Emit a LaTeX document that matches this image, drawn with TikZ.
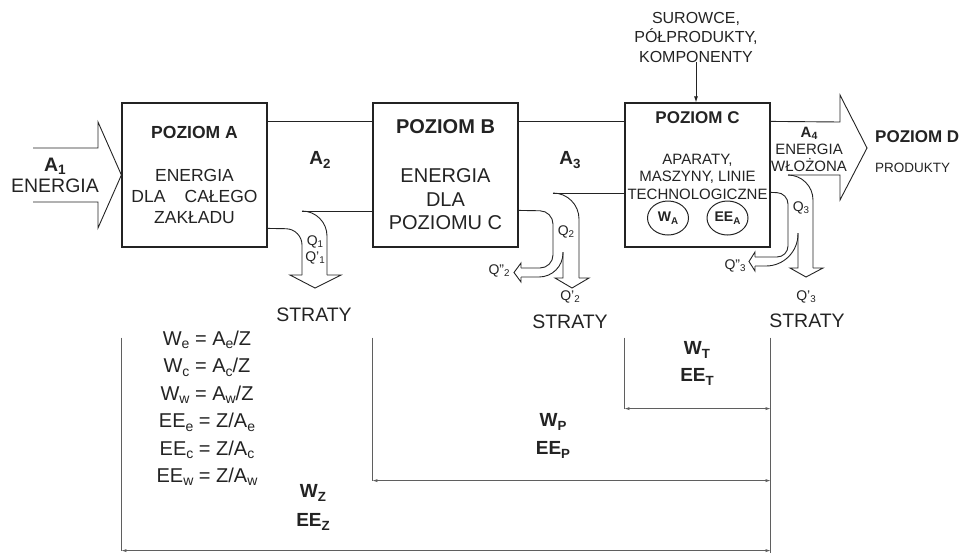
\documentclass[tikz,border=0pt]{standalone}
\usepackage{fontspec}
\setmainfont{Liberation Sans}
\usepackage{tikz}
\usetikzlibrary{positioning, arrows.meta, calc, shapes.geometric}
\definecolor{ink}{RGB}{35,35,35}
\definecolor{rule}{RGB}{95,95,95}
\newcommand{\lo}[1]{\raisebox{-0.17em}{\scalebox{0.7}{#1}}}

\begin{document}
\begin{tikzpicture}[
      x=1pt, y=-1pt,
      box/.style={
        draw=ink,
        line width=1.2pt,
        minimum width=145pt,
        minimum height=144pt,
        inner sep=0pt
      },
      flow/.style={
        draw=ink,
        line width=0.9pt
      },
      dimline/.style={
        draw=rule,
        line width=0.8pt
      },
      dimarrow/.style={
        draw=rule,
        line width=0.6pt,
        {Latex[length=5pt,width=3pt]}-{Latex[length=5pt,width=3pt]}
      },
      txt/.style n args={2}{text=ink, inner sep=0pt, align=center, font=\fontsize{#1}{#2}\selectfont},
      btxt/.style n args={2}{text=ink, inner sep=0pt, align=center, font=\fontsize{#1}{#2}\selectfont\bfseries},
      meter/.style={
        draw=ink,
        line width=1pt,
        ellipse,
        minimum width=41pt,
        minimum height=34pt,
        inner sep=0pt
      }
    ]

    \useasboundingbox (0,0) rectangle (964,552);

    \node[box] (poza) at (194.5,175) {};
    \node[box] (pozb) at (445.5,175) {};
    \node[box] (pozc) at (697.5,175) {};

    \node[btxt={17.5}{21}] (tyta) at (194.5,132) {POZIOM A};
    \node[txt={17.5}{21}] (opisa) at (194.5,196) {ENERGIA\\DLA\hspace{1.1em}CAŁEGO\\ZAKŁADU};
    \node[btxt={20}{24}] (tytb) at (445.5,127) {POZIOM B};
    \node[txt={20}{23.5}] (opisb) at (445.5,199.5) {ENERGIA\\DLA\\POZIOMU C};
    \node[btxt={17}{20}] (tytc) at (697.5,118) {POZIOM C};
    \node[txt={15}{17.5}] (opisc) at (697.5,176.5) {APARATY,\\MASZYNY, LINIE\\TECHNOLOGICZNE};
    \node[meter, btxt={14}{16}] (wa) at (668,218) {W\lo{A}};
    \node[meter, btxt={14}{16}] (eea) at (727.5,218) {EE\lo{A}};

    \node[txt={16}{19.5}] (surowce) at (696,37) {SUROWCE,\\PÓŁPRODUKTY,\\KOMPONENTY};
    \draw[flow, -{Latex[length=6pt,width=4pt]}] (surowce.south) -- (surowce.south |- pozc.north);

    \coordinate (a1top) at (33,148);
    \coordinate (a1bot) at (33,202);
    \draw[flow] (a1top) -- (98,148) -- (98,122) -- (poza.west) -- (98,228) -- (98,202) -- (a1bot);
    \node[txt={19.5}{21.5}] (a1) at (55,175.5) {\textbf{A\lo{1}}\\ENERGIA};

    \draw[flow] ([yshift=-19pt]poza.north east) -- ([yshift=-19pt]pozb.north west);
    \draw[flow] ([yshift=-19pt]pozb.north east) -- ([yshift=-19pt]pozc.north west);
    \node[btxt={19}{21}] (a2) at (320,160) {A\lo{2}};
    \node[btxt={19}{21}] (a3) at (570,160) {A\lo{3}};

    \coordinate (q1in) at (302,211);
    \draw[flow] (q1in) -- (q1in -| pozb.west);
    \draw[flow, rounded corners=16pt] ([yshift=-126pt]poza.north east) -- (302,229) -- (302,275);
    \draw[flow] (302,275) -- (290,275) -- (315,288) -- (341,275) -- (327,275);
    \draw[flow, rounded corners=25pt] (327,275) -- (327,211) -- (q1in);
    \node[txt={14}{16}] (q1) at (315,250) {Q\lo{1}\\Q'\lo{1}};
    \node[txt={19.5}{22}] (straty1) at (314,315) {STRATY};

    \coordinate (q2in) at (553,193);
    \draw[flow] (q2in) -- (q2in -| pozc.west);
    \draw[flow, rounded corners=13pt] ([yshift=-108pt]pozb.north east) -- (553,211) -- (553,268) -- (521,268);
    \draw[flow] (521,268) -- (521,263) -- (514,272.5) -- (521,282) -- (521,277);
    \draw[flow, rounded corners=24pt] (521,277) -- (563,277) -- (563,252);
    \draw[flow] (563,252) -- (563,278) -- (555,278) -- (572,288) -- (589,278) -- (579,278);
    \draw[flow, rounded corners=26pt] (579,278) -- (579,193) -- (q2in);
    \node[txt={14}{16}] (q2) at (566,232) {Q\lo{2}};
    \node[txt={14}{16}] (q2b) at (499,271) {Q"\lo{2}};
    \node[txt={14}{16}] (q2a) at (570,297) {Q'\lo{2}};
    \node[txt={19.5}{22}] (straty2) at (570,322) {STRATY};

    \coordinate (a4low) at (788,175);
    \draw[flow] ([yshift=-19pt]pozc.north east) -- (840,122) -- (840,95) -- (867,148) -- (840,200) -- (840,175) -- (a4low);
    \node[txt={15}{17}] (a4) at (809,149) {\textbf{A\lo{4}}\\ENERGIA\\WŁOŻONA};
    \node[btxt={17}{20}, anchor=west] (pozd) at (875,137) {POZIOM D};
    \node[txt={13.5}{16}, anchor=west] (produkty) at (875,168) {PRODUKTY};

    \draw[flow, rounded corners=11pt] ([yshift=-90pt]pozc.north east) -- (788,193) -- (788,257) -- (755,257);
    \draw[flow] (755,257) -- (755,252) -- (749,261.5) -- (755,271) -- (755,266);
    \draw[flow, rounded corners=32pt] (755,266) -- (798,266) -- (798,233);
    \draw[flow] (798,233) -- (798,268) -- (790,268) -- (806,277) -- (823,268) -- (813,268);
    \draw[flow, rounded corners=25pt] (813,268) -- (813,175) -- (a4low);
    \node[txt={14}{16}] (q3) at (801,208) {Q\lo{3}};
    \node[txt={14}{16}] (q3b) at (735,266) {Q"\lo{3}};
    \node[txt={14}{16}] (q3a) at (806,297) {Q'\lo{3}};
    \node[txt={19.5}{22}] (straty3) at (807,321) {STRATY};

    \coordinate (za) at ([yshift=-90pt]poza.south west);
    \coordinate (zb) at ([yshift=-90pt]pozb.south west);
    \coordinate (zc) at ([yshift=-90pt]pozc.south west);
    \coordinate (zd) at ([yshift=-90pt]pozc.south east);
    \draw[dimline] (za) -- ++(0,213) coordinate (za2);
    \draw[dimline] (zb) -- ++(0,143) coordinate (zb2);
    \draw[dimline] (zc) -- ++(0,71) coordinate (zc2);
    \draw[dimline] (zd) -- ++(0,215);
    \draw[dimarrow] (zc2) -- (zc2 -| zd);
    \draw[dimarrow] (zb2) -- (zb2 -| zd);
    \draw[dimarrow] (za2) -- (za2 -| zd);

    \node[txt={20}{27.4}] (wzory) at (207,408.5) {W\lo{e} = A\lo{e}/Z\\W\lo{c} = A\lo{c}/Z\\W\lo{w} = A\lo{w}/Z\\EE\lo{e} = Z/A\lo{e}\\EE\lo{c} = Z/A\lo{c}\\EE\lo{w} = Z/A\lo{w}};
    \node[btxt={19}{27}] (wt) at (697,363.5) {W\lo{T}\\EE\lo{T}};
    \node[btxt={19}{28}] (wp) at (553,436) {W\lo{P}\\EE\lo{P}};
    \node[btxt={19}{29}] (wz) at (313,507.5) {W\lo{Z}\\EE\lo{Z}};

    \end{tikzpicture}
\end{document}
